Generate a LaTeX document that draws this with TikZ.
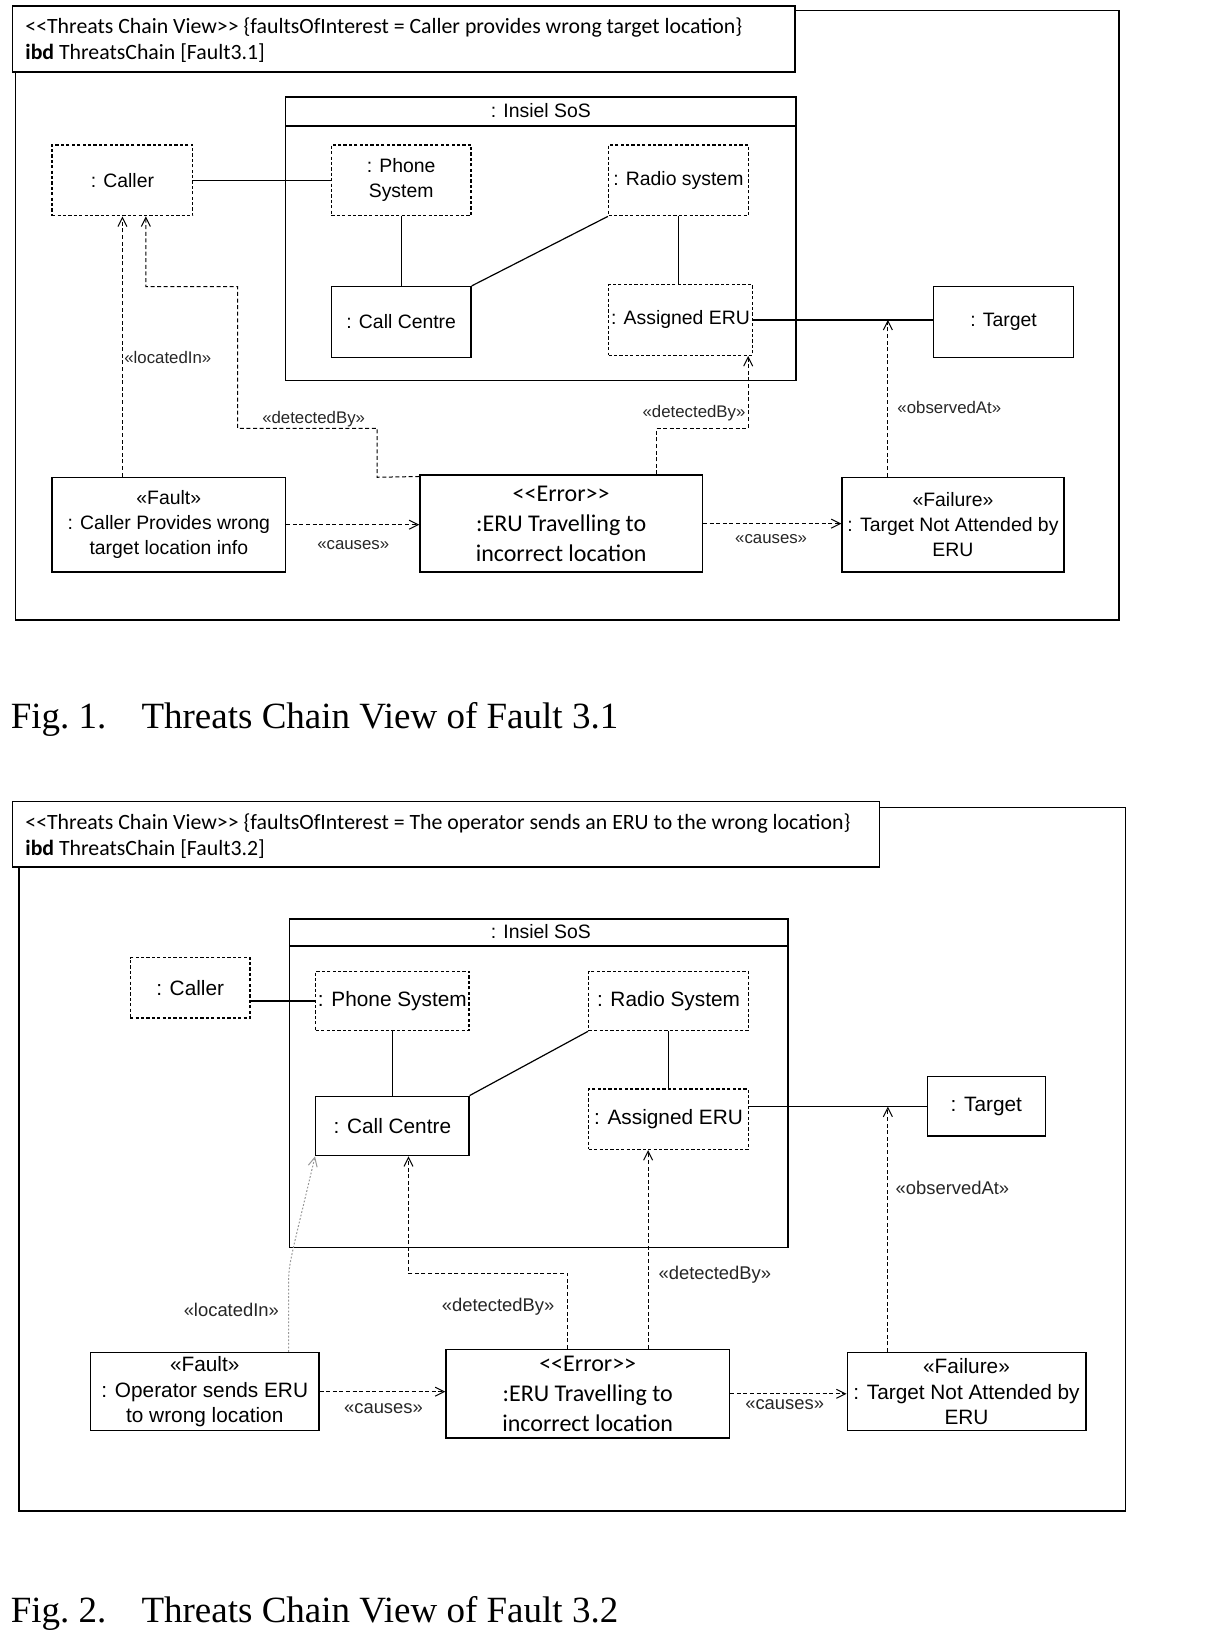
\documentclass[tikz,border=0pt]{standalone}
\usepackage{fontspec}
\setmainfont{Liberation Sans}
\newfontfamily\calfont{Carlito}
\newfontfamily\timesfont{Liberation Serif}
\usetikzlibrary{arrows.meta}
\begin{document}
\begin{tikzpicture}[x=0.521pt,y=-0.521pt,
  rect/.style args={#1/#2/#3/#4}{at={({(#1+#3)/2},{(#2+#4)/2})},
     minimum width={(#3-#1)*0.521pt}, minimum height={(#4-#2)*0.521pt}},
  frame/.style={draw, line width=0.8pt},
  hdr/.style={draw, fill=white, line width=0.8pt, inner sep=0pt},
  hdrtxt/.style={font=\calfont\fontsize{10.9}{12}\selectfont, inner sep=0pt, anchor=west},
  sbox/.style={draw, line width=0.7pt, inner sep=0pt, align=center, font=\fontsize{9.7}{12.5}\selectfont},
  dbox/.style={sbox, dash pattern=on 1.6pt off 1.1pt},
  sboxb/.style={sbox, font=\fontsize{10.4}{12.8}\selectfont},
  dboxb/.style={sboxb, dash pattern=on 1.6pt off 1.1pt},
  errbox/.style={sbox, font=\calfont\fontsize{12}{14.9}\selectfont},
  sos/.style={draw, line width=0.8pt, inner sep=0pt},
  assoc/.style={draw, line width=0.6pt},
  dep/.style={draw, line width=0.5pt, dash pattern=on 2pt off 1.3pt, -{Straight Barb[length=4.5pt,width=4.5pt]}},
  dotdep/.style={dep, draw=gray!80, dash pattern=on 0.9pt off 0.9pt},
  lbl/.style={font=\fontsize{8.4}{10}\selectfont, inner sep=0pt, text=black!85},
  lblb/.style={font=\fontsize{9.2}{11}\selectfont, inner sep=0pt, text=black!85},
  captxt/.style={font=\timesfont\fontsize{18.5}{22}\selectfont, inner sep=0pt, anchor=base west}
]
\fill[white] (0,0) rectangle (1172,1569);
\useasboundingbox (0,0) rectangle (1172,1569);

%% ================= Figure 1 =================
\draw[frame] (15,10) rectangle (1074,595);
\node[hdr, rect=12/6/763/69] (h1) {};
\node[hdrtxt] (h1a) at (24,26) {<{}<Threats Chain View>{}> \{faultsOfInterest = Caller provides wrong target location\}};
\node[hdrtxt] (h1b) at (24,51) {\textbf{ibd} ThreatsChain [Fault3.1]};

\node[sos, rect=274/93/764/365] (sos1) {};
\draw[line width=0.8pt] (274,121) -- (764,121);
\node[sbox, draw=none] (sos1t) at (519,106) {: Insiel SoS};

\node[dbox, rect=50/139/185/207] (caller1) {: Caller};
\node[dbox, rect=318/139/452/207] (phone1) {: Phone\\System};
\node[dbox, rect=584/139/718/207] (radio1) {: Radio system};
\node[sbox, rect=318/275/452/343] (cc1) {: Call Centre};
\node[dbox, rect=584/273/722/341] (eru1) {: Assigned ERU};
\node[sbox, rect=896/275/1030/343] (target1) {: Target};
\node[sbox, rect=50/458/274/549] (fault1) {«Fault»\\: Caller Provides wrong\\target location info};
\node[errbox, rect=403/456/674/549] (err1) {<{}<Error>{}>\\:ERU Travelling to\\incorrect location};
\node[sbox, rect=808/458/1021/549] (fail1) {«Failure»\\: Target Not Attended by\\ERU};

% associations
\draw[assoc] (caller1.east) -- (caller1.east -| phone1.west);
\draw[assoc] (phone1.south) -- (phone1.south |- cc1.north);
\draw[assoc] (cc1.north east) -- (radio1.south west);
\draw[assoc] (radio1.south) -- (radio1.south |- eru1.north);
\draw[assoc] (eru1.east) -- (eru1.east -| target1.west);

% dependencies
\coordinate (d1a) at (362,458);
\coordinate (d1b) at (362,411);
\coordinate (d1c) at (228,411);
\coordinate (d1d) at (228,275);
\coordinate (d1e) at (140,275);
\coordinate (d2a) at (630,411);
\coordinate (d2b) at (718,411);
\coordinate (o1) at (852,307);

\draw[dep] (caller1.south |- fault1.north) -- (caller1.south);
\draw[dep] ([yshift=-1pt]err1.north west) -- (d1a) -- (d1b) -- (d1c) -- (d1d) -- (d1e) -- (d1e |- caller1.south);
\draw[dep] (d2a |- err1.north) -- (d2a) -- (d2b) -- (d2b |- eru1.south);
\draw[dep] (o1 |- fail1.north) -- (o1);
\draw[dep] (fault1.east) -- (fault1.east -| err1.west);
\draw[dep] (err1.east) -- (err1.east -| fail1.west);

\node[lbl, anchor=west] (l1a) at (119,343) {«locatedIn»};
\node[lbl] (l1b) at (301,402) {«detectedBy»};
\node[lbl] (l1c) at (666,396) {«detectedBy»};
\node[lbl] (l1d) at (911,391) {«observedAt»};
\node[lbl] (l1e) at (339,523) {«causes»};
\node[lbl] (l1f) at (740,517) {«causes»};

\node[captxt] (cap1) at (10,699) {Fig.~1.\hspace{0.95em}Threats Chain View of Fault 3.1};

%% ================= Figure 2 =================
\draw[frame] (18,775) rectangle (1080,1450);
\node[hdr, rect=12/769/844/832] (h2) {};
\node[hdrtxt] (h2a) at (24,790) {<{}<Threats Chain View>{}> \{faultsOfInterest = The operator sends an ERU to the wrong location\}};
\node[hdrtxt] (h2b) at (24,815) {\textbf{ibd} ThreatsChain [Fault3.2]};

\node[sos, rect=278/882/756/1197] (sos2) {};
\draw[line width=0.8pt] (278,908) -- (756,908);
\node[sbox, draw=none] (sos2t) at (519,894) {: Insiel SoS};

\node[dboxb, rect=125/919/240/977] (caller2) {: Caller};
\node[dboxb, rect=303/932/450/989] (phone2) {: Phone System};
\node[dboxb, rect=565/932/718/989] (radio2) {: Radio System};
\node[sboxb, rect=303/1052/450/1109] (cc2) {: Call Centre};
\node[dboxb, rect=565/1045/718/1103] (eru2) {: Assigned ERU};
\node[sboxb, rect=890/1033/1003/1090] (target2) {: Target};
\node[sboxb, rect=87/1298/306/1373] (fault2) {«Fault»\\: Operator sends ERU\\to wrong location};
\node[errbox, rect=428/1295/700/1380] (err2) {<{}<Error>{}>\\:ERU Travelling to\\incorrect location};
\node[sboxb, rect=813/1298/1042/1373] (fail2) {«Failure»\\: Target Not Attended by\\ERU};

% associations
\draw[assoc] (phone2.west -| caller2.east) -- (phone2.west);
\draw[assoc] (phone2.south) -- (phone2.south |- cc2.north);
\draw[assoc] (cc2.north east) -- (radio2.south west);
\draw[assoc] (radio2.south) -- (radio2.south |- eru2.north);
\draw[assoc] (target2.west -| eru2.east) -- (target2.west);

% dependencies
\coordinate (la2) at (277,1228);
\coordinate (dl2a) at (545,1222);
\coordinate (dl2b) at (392,1222);
\coordinate (dr2) at (622,1200);
\coordinate (o2) at (852,1062);

\draw[dotdep] (la2 |- fault2.north) -- (la2) .. controls (277,1212) and (281,1200) .. (cc2.south west);
\draw[dep] (dl2a |- err2.north) -- (dl2a) -- (dl2b) -- (dl2b |- cc2.south);
\draw[dep] (dr2 |- err2.north) -- (dr2 |- eru2.south);
\draw[dep] (o2 |- fail2.north) -- (o2);
\draw[dep] (fault2.east) -- (fault2.east -| err2.west);
\draw[dep] (err2.east) -- (err2.east -| fail2.west);

\node[lblb] (l2a) at (222,1257) {«locatedIn»};
\node[lblb] (l2b) at (478,1254) {«detectedBy»};
\node[lblb] (l2c) at (686,1223) {«detectedBy»};
\node[lblb] (l2d) at (914,1140) {«observedAt»};
\node[lblb] (l2e) at (368,1352) {«causes»};
\node[lblb] (l2f) at (753,1348) {«causes»};

\node[captxt] (cap2) at (10,1557) {Fig.~2.\hspace{0.95em}Threats Chain View of Fault 3.2};
\end{tikzpicture}
\end{document}
